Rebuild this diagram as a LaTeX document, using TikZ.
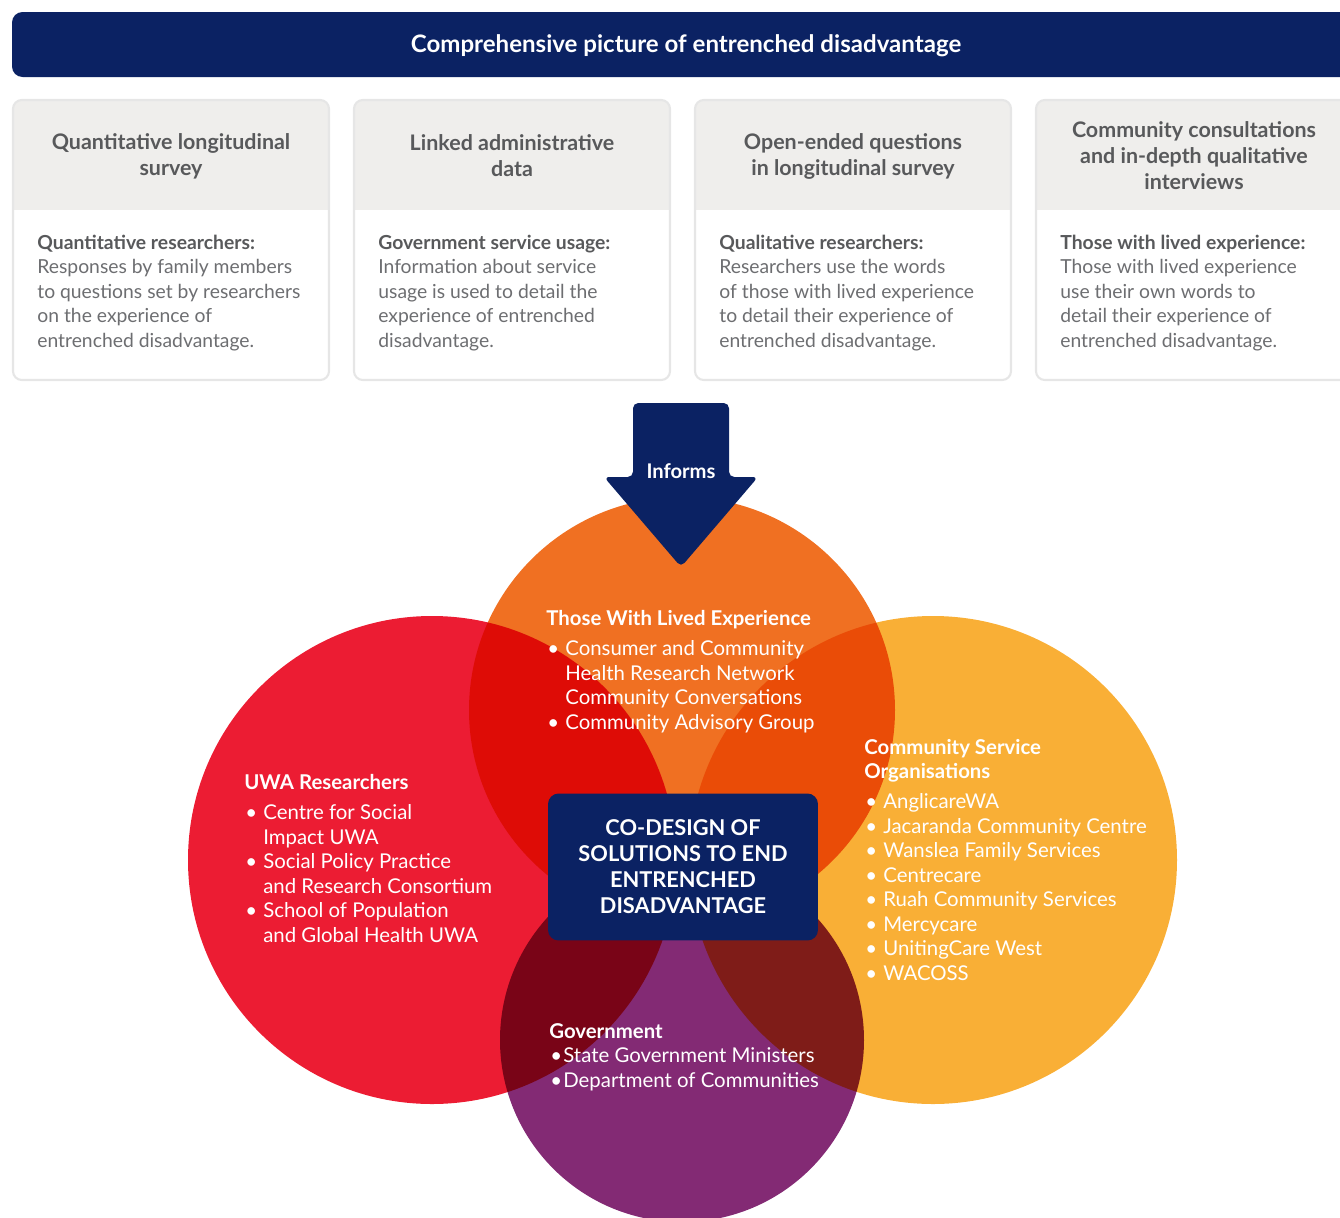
\documentclass[tikz,border=0pt]{standalone}
\usepackage{fontspec}
\setmainfont{Lato}
\usetikzlibrary{positioning}
\definecolor{navy}{HTML}{0B2263}
\definecolor{headgrey}{HTML}{EFEEEC}
\definecolor{cardline}{HTML}{E6E6E6}
\definecolor{darktext}{HTML}{58595B}
\definecolor{bodytext}{HTML}{6D6E71}
\definecolor{vred}{HTML}{EC1C33}
\definecolor{vorange}{HTML}{F07022}
\definecolor{vyellow}{HTML}{F9AF36}
\definecolor{vpurple}{HTML}{832A74}
\newcommand{\bul}[1][0.38cm]{\makebox[#1][l]{\hspace{0.02cm}\textbullet}}
\newcommand{\ind}[1][0.38cm]{\hspace*{#1}}

\begin{document}
\begin{tikzpicture}[x=0.02cm,y=-0.02cm,
  cardhead/.style={font=\bfseries\fontsize{12.2}{14.8}\selectfont,text=darktext,align=center},
  cardbody/.style={font=\fontsize{11}{13.94}\selectfont,text=bodytext,align=left,anchor=base west,inner sep=0pt},
  venntext/.style={font=\fontsize{11.6}{13.94}\selectfont,text=white,align=left,anchor=base west,inner sep=0pt}]
  \useasboundingbox (0,0) rectangle (1340,1218);
  % banner
  \fill[navy,rounded corners=6] (12,12) rectangle (1370,77);
  \node[font=\bfseries\fontsize{13.7}{16}\selectfont,text=white] (title) at (686,46)
    {Comprehensive picture of entrenched disadvantage};
  % the four sources (bodies are placed by their last line)
  \foreach \i/\hd/\lb/\bd in {
    0/{Quantitative longitudinal\\survey}/{Quantitative researchers:}/{Responses by family members\\to questions set by researchers\\on the experience of\\entrenched disadvantage.},
    1/{Linked administrative\\data}/{Government service usage:}/{Information about service\\usage is used to detail the\\experience of entrenched\\disadvantage.},
    2/{Open-ended questions\\in longitudinal survey}/{Qualitative researchers:}/{Researchers use the words\\of those with lived experience\\to detail their experience of\\entrenched disadvantage.},
    3/{Community consultations\\and in-depth qualitative\\interviews}/{Those with lived experience:}/{Those with lived experience\\use their own words to\\detail their experience of\\entrenched disadvantage.}}{
    \pgfmathsetmacro{\xl}{13+341*\i}
    \begin{scope}
      \clip[rounded corners=5] (\xl,100) rectangle ++(316,280);
      \fill[white] (\xl,100) rectangle ++(316,280);
      \fill[headgrey] (\xl,100) rectangle ++(316,110);
    \end{scope}
    \draw[cardline,line width=1.2pt,rounded corners=5] (\xl,100) rectangle ++(316,280);
    \node[cardhead] (head\i) at (\xl+158,156) {\hd};
    \node[cardbody] (body\i) at (\xl+24,347) {\textbf{\color{darktext}\lb}\\\bd};
  }
  % venn
  \begin{scope}[blend group=multiply]
    \fill[vred] (432,860) circle (244);
    \fill[vorange] (682,710) circle (213);
    \fill[vyellow] (933,860) circle (244);
    \fill[vpurple] (682,1040) circle (182);
  \end{scope}
  % informs arrow
  \fill[navy,rounded corners=3] (633,403) -- (729,403) -- (729,477) -- (758,477)
    -- (681,567) -- (604,477) -- (633,477) -- cycle;
  \node[font=\bfseries\fontsize{11.5}{13}\selectfont,text=white] (informs) at (681,471) {Informs};
  % centre
  \node[fill=navy,rounded corners=6,minimum width=5.4cm,minimum height=2.94cm,
        font=\bfseries\fontsize{12.4}{14.8}\selectfont,text=white,align=center]
    (codesign) at (683,867) {CO-DESIGN OF\\SOLUTIONS TO END\\ENTRENCHED\\DISADVANTAGE};
  \node[venntext] (lived) at (546,729) {\textbf{Those With Lived Experience}\\[3pt]
    \bul Consumer and Community\\ \ind Health Research Network\\ \ind Community Conversations\\
    \bul Community Advisory Group};
  \node[venntext] (uwa) at (244,942) {\textbf{UWA Researchers}\\[3pt]
    \bul Centre for Social\\ \ind Impact UWA\\ \bul Social Policy Practice\\
    \ind and Research Consortium\\ \bul School of Population\\ \ind and Global Health UWA};
  \node[venntext] (cso) at (864,980) {\textbf{Community Service}\\\textbf{Organisations}\\[3pt]
    \bul AnglicareWA\\ \bul Jacaranda Community Centre\\ \bul Wanslea Family Services\\
    \bul Centrecare\\ \bul Ruah Community Services\\ \bul Mercycare\\
    \bul UnitingCare West\\ \bul WACOSS};
  \node[venntext] (govt) at (549,1087) {\textbf{Government}\\
    \bul[0.28cm]State Government Ministers\\
    \bul[0.28cm]Department of Communities};
\end{tikzpicture}
\end{document}
